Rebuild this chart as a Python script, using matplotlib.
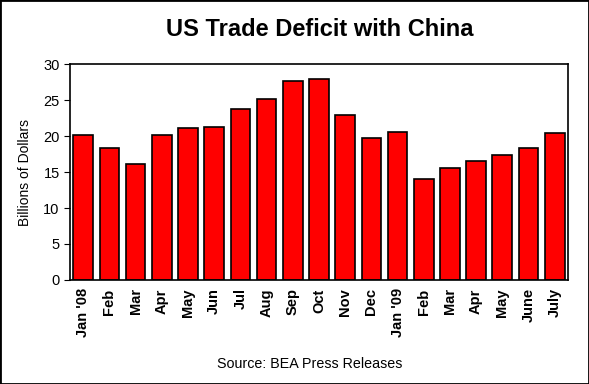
import matplotlib
matplotlib.use("Agg")
import matplotlib.pyplot as plt
from matplotlib.patches import Rectangle

months = ["Jan '08", "Feb", "Mar", "Apr", "May", "Jun", "Jul", "Aug", "Sep", "Oct",
          "Nov", "Dec", "Jan '09", "Feb", "Mar", "Apr", "May", "June", "July"]
deficit = [20.2, 18.3, 16.1, 20.2, 21.1, 21.3, 23.7, 25.2, 27.7, 27.9,
           22.9, 19.7, 20.5, 14.1, 15.5, 16.6, 17.3, 18.3, 20.4]

plt.rcParams['font.family'] = ['Liberation Sans', 'DejaVu Sans']

fig = plt.figure(figsize=(5.89, 3.84), dpi=100)
fig.patches.append(Rectangle((0, 0), 1, 1, transform=fig.transFigure,
                             fill=False, edgecolor='black', linewidth=2))
ax = fig.add_axes([0.119, 0.271, 0.845, 0.562])

x = list(range(len(months)))
ax.bar(x, deficit, 0.75, color='#ff0000', edgecolor='black', linewidth=1.2)

ax.set_xlim(-0.5, len(months) - 0.5)
ax.set_ylim(0, 30)
ax.set_yticks(range(0, 31, 5))
ax.tick_params(axis='y', labelsize=10.5, direction='out', length=4)
ax.tick_params(axis='x', length=0, pad=6)
ax.set_xticks(x)
ax.set_xticklabels(months, rotation=90, fontsize=10.5, fontweight='bold')
ax.set_ylabel("Billions of Dollars", fontsize=10, labelpad=8)
for s in ax.spines.values():
    s.set_linewidth(1.2)

fig.text(0.543, 0.922, "US Trade Deficit with China", ha='center', va='center',
         fontsize=17, fontweight='bold')
fig.text(0.526, 0.052, "Source: BEA Press Releases", ha='center', va='center',
         fontsize=10.3)

fig.savefig("out.png", dpi=100)
